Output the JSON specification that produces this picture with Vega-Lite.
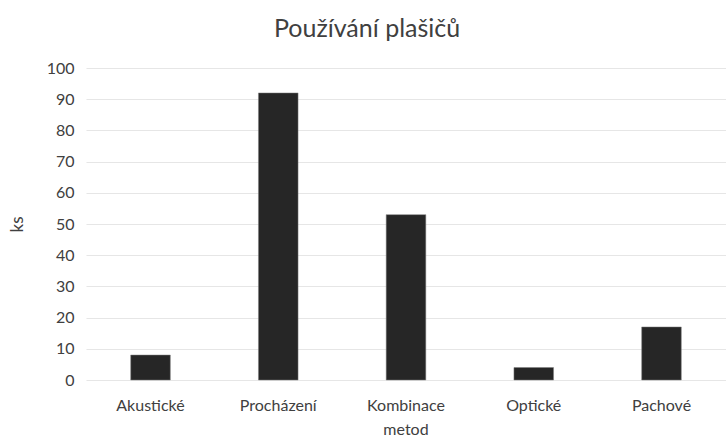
{
  "$schema": "https://vega.github.io/schema/vega-lite/v6.json",
  "width": 726,
  "height": 437,
  "autosize": {"type": "fit", "contains": "padding"},
  "padding": {"left": 8, "right": 0, "top": 17, "bottom": 0},
  "background": "white",
  "title": {"text": "Používání plašičů", "font": "Lato", "fontSize": 25, "fontWeight": "normal", "color": "#404040", "offset": 18, "anchor": "middle", "frame": "bounds"},
  "data": {"values": [
    {"metoda": "Akustické", "ks": 8},
    {"metoda": "Procházení", "ks": 92},
    {"metoda": "Kombinace metod", "ks": 53},
    {"metoda": "Optické", "ks": 4},
    {"metoda": "Pachové", "ks": 17}
  ]},
  "config": {"view": {"stroke": null}},
  "mark": {"type": "bar", "color": "#262626", "stroke": "#7f7f7f", "strokeWidth": 0.5},
  "encoding": {
    "x": {"field": "metoda", "type": "nominal", "sort": null,
      "scale": {"paddingInner": 0.69, "paddingOuter": 0.35},
      "axis": {"title": null, "labelAngle": 0, "domain": false, "ticks": false, "labelFont": "Lato", "labelFontSize": 16, "labelColor": "#404040", "labelPadding": 17, "labelLineHeight": 24,
        "labelExpr": "datum.value == 'Kombinace metod' ? ['Kombinace', 'metod'] : datum.value"}},
    "y": {"field": "ks", "type": "quantitative",
      "scale": {"domain": [0, 100]},
      "axis": {"title": "ks", "titleFont": "Lato", "titleFontSize": 17, "titleFontWeight": "normal", "titleColor": "#404040", "titlePadding": 20,
        "values": [0,10,20,30,40,50,60,70,80,90,100], "domain": false, "ticks": false, "labelFont": "Lato", "labelFontSize": 16, "labelColor": "#404040", "labelPadding": 12, "gridColor": "#e6e6e6", "gridWidth": 1.2}}
  }
}
